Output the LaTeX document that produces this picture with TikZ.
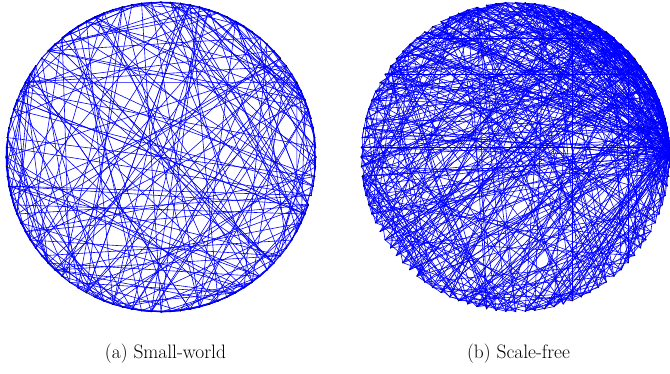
\documentclass[tikz,border=0pt]{standalone}
\usepackage{tikz}
\tikzset{
  edge/.style={blue, line width=0.6bp},
  vert/.style={circle, fill=black, inner sep=0pt, minimum size=1.5bp},
  caption/.style={font=\fontsize{19.5}{23}\selectfont, anchor=base}
}
\begin{document}
\begin{tikzpicture}[x=1bp,y=1bp]
\useasboundingbox (0,0) rectangle (670,373);
\pgfmathsetseed{4711}
% ---------- small-world ----------
\foreach \i in {0,...,99}{
  \path (161,216) ++ (\i*3.6:155) coordinate (a\i);
}
\foreach \i in {0,...,99}{
  \foreach \k in {1,2,3,4}{
    \pgfmathsetmacro{\r}{rnd}
    \ifdim\r pt<0.5pt
      \pgfmathtruncatemacro{\t}{mod(\i+\k,100)}
    \else
      \pgfmathrandominteger{\t}{0}{99}
    \fi
    \draw[edge] (a\i) -- (a\t);
  }
}
\foreach \i in {0,...,99}{
  \node[vert] (va\i) at (a\i) {};
}
% ---------- scale-free ----------
\foreach \i in {0,...,99}{
  \path (515.5,216) ++ (\i*3.6:154.5) coordinate (b\i);
}
\foreach \i in {1,...,99}{
  \foreach \k in {1,...,6}{
    \pgfmathtruncatemacro{\t}{floor(\i*rnd^1.7)}
    \draw[edge] (b\i) -- (b\t);
  }
}
\foreach \i in {0,...,99}{
  \node[vert] (vb\i) at (b\i) {};
}
% ---------- captions ----------
\node[caption] (capa) at (165.5,15) {(a) Small-world};
\node[caption] (capb) at (518.5,15) {(b) Scale-free};
\end{tikzpicture}
\end{document}
